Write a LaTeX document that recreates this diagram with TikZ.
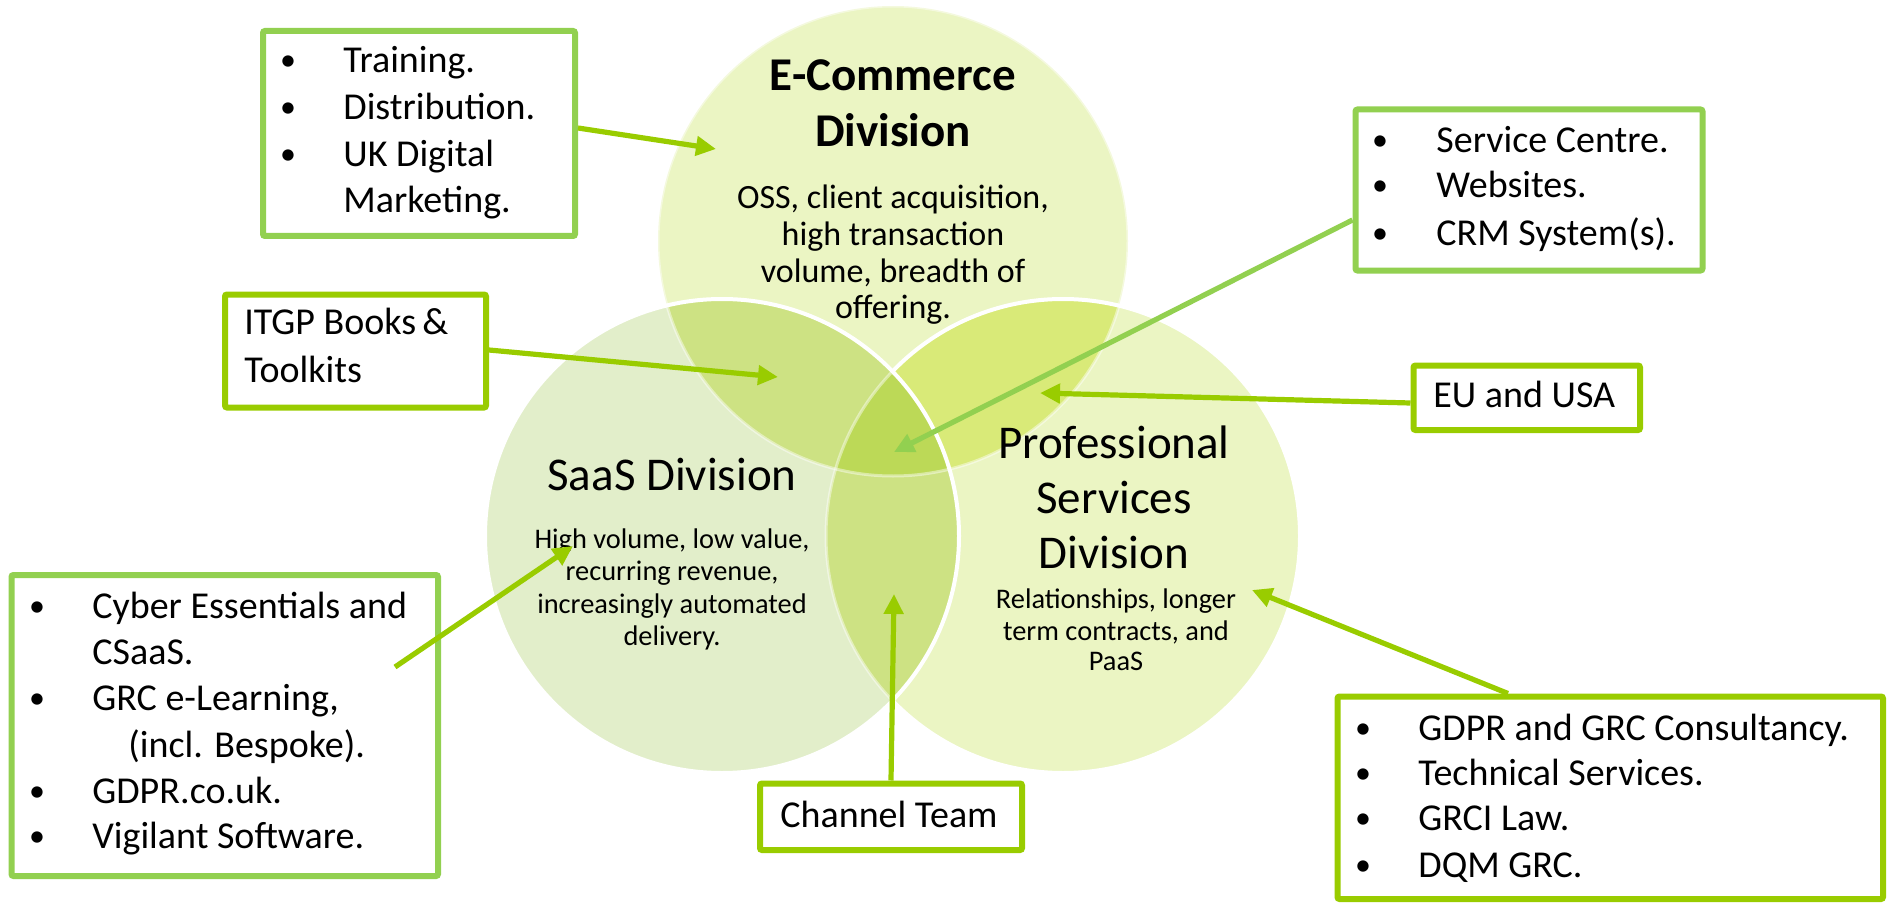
\documentclass[tikz,border=0pt]{standalone}
\usepackage{fontspec}
\setmainfont{Carlito}
\usetikzlibrary{arrows.meta,calc}
\definecolor{lg}{HTML}{92D050}
\definecolor{yg}{HTML}{99CC00}
\definecolor{cE}{HTML}{EBF5C3}
\definecolor{cS}{HTML}{E2EECA}
\definecolor{cP}{HTML}{EBF5C3}
\definecolor{cES}{HTML}{CDE283}
\definecolor{cEP}{HTML}{D9EA78}
\definecolor{cSP}{HTML}{CDE283}
\definecolor{cESP}{HTML}{BCD957}
\tikzset{
  boxA/.style={draw=lg, line width=3pt, rounded corners=1pt, fill=white, inner sep=0pt},
  boxB/.style={draw=yg, line width=3pt, rounded corners=1pt, fill=white, inner sep=0pt},
  btxt/.style={anchor=base west, inner sep=0pt, font=\fontsize{19}{23}\selectfont},
  bul/.style={anchor=base, inner sep=0pt, yshift=1pt, font=\fontsize{16}{20}\selectfont},
  ttl/.style={anchor=base, inner sep=0pt, font=\fontsize{23.5}{28}\selectfont},
  edsc/.style={anchor=base, inner sep=0pt, font=\fontsize{17}{20}\selectfont},
  dsc/.style={anchor=base, inner sep=0pt, font=\fontsize{14.2}{17}\selectfont},
  arrY/.style={draw=yg, line width=2.6pt, -{Triangle[length=10pt,width=9.5pt]}},
  arrL/.style={draw=lg, line width=2.6pt, -{Triangle[length=10pt,width=9.5pt]}},
}
\def\Ec{(893,241) circle[radius=117.5pt]}
\def\Sc{(722,536) circle[radius=118.5pt]}
\def\Pc{(1063,536) circle[radius=118.5pt]}
\begin{document}
\begin{tikzpicture}[x=0.5pt,y=-0.5pt]
\useasboundingbox (0,0) rectangle (1887,904);
% circles
\fill[cE] \Ec;
\fill[cP] \Pc;
\fill[cS] \Sc;
\begin{scope}
  \clip \Ec;
  \fill[cES] \Sc;
  \fill[cEP] \Pc;
\end{scope}
\begin{scope}
  \clip \Sc;
  \fill[cSP] \Pc;
  \clip \Ec;
  \fill[cESP] \Pc;
\end{scope}
\draw[white, opacity=0.45, line width=1.5pt] \Ec;
\draw[white, opacity=0.45, line width=1.5pt] \Pc;
\begin{scope}[even odd rule]
  \clip (0,0) rectangle (1887,904) (722,536) circle[radius=118.5pt];
  \draw[white, line width=2pt] \Pc;
\end{scope}
\draw[white, line width=2pt] \Sc;

% circle texts
\node[ttl, font=\fontsize{23.5}{28}\selectfont\bfseries] (e1) at (893,91) {E-Commerce};
\node[ttl, font=\fontsize{23.5}{28}\selectfont\bfseries] (e2) at (893,147) {Division};
\node[edsc] (e3) at (893,208) {OSS, client acquisition,};
\node[edsc] (e4) at (893,245) {high transaction};
\node[edsc] (e5) at (893,282) {volume, breadth of};
\node[edsc] (e6) at (893,318) {offering.};

\node[ttl] (s1) at (672,490) {SaaS Division};
\node[dsc] (s2) at (672,548) {High volume, low value,};
\node[dsc] (s3) at (672,580) {recurring revenue,};
\node[dsc] (s4) at (672,613) {increasingly automated};
\node[dsc] (s5) at (672,645) {delivery.};

\node[ttl] (p1) at (1114,458) {Professional};
\node[ttl] (p2) at (1114,513) {Services};
\node[ttl] (p3) at (1114,568) {Division};
\node[dsc] (p4) at (1116,608) {Relationships, longer};
\node[dsc] (p5) at (1116,640) {term contracts, and};
\node[dsc] (p6) at (1116,670) {PaaS};

% boxes
\node[boxA, minimum width=156pt, minimum height=102.5pt] (train) at (419,133.5) {};
\node[boxA, minimum width=173.5pt, minimum height=80.5pt] (svc) at (1529,190) {};
\node[boxB, minimum width=130.5pt, minimum height=56.5pt] (itgp) at (355.5,351) {};
\node[boxB, minimum width=113.25pt, minimum height=32.25pt] (eu) at (1526.75,397.75) {};
\node[boxA, minimum width=213.25pt, minimum height=150.5pt] (cyber) at (224.75,725.5) {};
\node[boxB, minimum width=131pt, minimum height=33.25pt] (chan) at (891,816.75) {};
\node[boxB, minimum width=272.75pt, minimum height=101.25pt] (gdpr) at (1610.25,797.75) {};

% box texts
\node[bul] (tb1) at (288,73) {•};
\node[bul] (tb2) at (288,120) {•};
\node[bul] (tb3) at (288,167) {•};
\node[btxt] (tt1) at (343,73) {Training.};
\node[btxt] (tt2) at (343,120) {Distribution.};
\node[btxt] (tt3) at (343,167) {UK Digital};
\node[btxt] (tt4) at (343,213) {Marketing.};

\node[bul] (vb1) at (1380,153) {•};
\node[bul] (vb2) at (1380,198) {•};
\node[bul] (vb3) at (1380,245) {•};
\node[btxt] (vt1) at (1436,153) {Service Centre.};
\node[btxt] (vt2) at (1436,198) {Websites.};
\node[btxt] (vt3) at (1436,245) {CRM System(s).};

\node[btxt] (it1) at (244,335) {ITGP Books\,\&};
\node[btxt] (it2) at (244,382) {Toolkits};

\node[btxt] (eut) at (1433,407) {EU and USA};

\node[bul] (cb1) at (37,618) {•};
\node[bul] (cb2) at (37,710) {•};
\node[bul] (cb3) at (37,803) {•};
\node[bul] (cb4) at (37,848) {•};
\node[btxt] (ct1) at (92,618) {Cyber Essentials and};
\node[btxt] (ct2) at (92,664) {CSaaS.};
\node[btxt] (ct3) at (92,710) {GRC e-Learning,};
\node[btxt] (ct4) at (128,757) {(incl. Bespoke).};
\node[btxt] (ct5) at (92,803) {GDPR.co.uk.};
\node[btxt] (ct6) at (92,848) {Vigilant Software.};

\node[btxt] (cht) at (780,827) {Channel Team};

\node[bul] (gb1) at (1363,740) {•};
\node[bul] (gb2) at (1363,785) {•};
\node[bul] (gb3) at (1363,830) {•};
\node[bul] (gb4) at (1363,877) {•};
\node[btxt] (gt1) at (1418,740) {GDPR and GRC Consultancy.};
\node[btxt] (gt2) at (1418,785) {Technical Services.};
\node[btxt] (gt3) at (1418,830) {GRCI Law.};
\node[btxt] (gt4) at (1418,877) {DQM GRC.};

% arrow targets
\coordinate (ecT) at (716,149);
\coordinate (esT) at (778,377);
\coordinate (mid) at (894,452);
\coordinate (epT) at (1040,393);
\coordinate (saT) at (573,546);
\coordinate (spT) at (894,594);
\coordinate (prT) at (1252,590);

% arrows
\draw[arrY] (train.east |- 0,128) -- (ecT);
\draw[arrY] (itgp.east |- 0,350) -- (esT);
\draw[arrL] (svc.west |- 0,220) -- (mid);
\draw[arrY] (eu.west |- 0,403) -- (epT);
\draw[arrY] ($(cyber.east)+(-46,-58.5)$) -- (saT);
\draw[arrY] (chan.north) -- (spT);
\draw[arrY] (gdpr.north -| 1508,0) -- (prT);
\end{tikzpicture}
\end{document}
